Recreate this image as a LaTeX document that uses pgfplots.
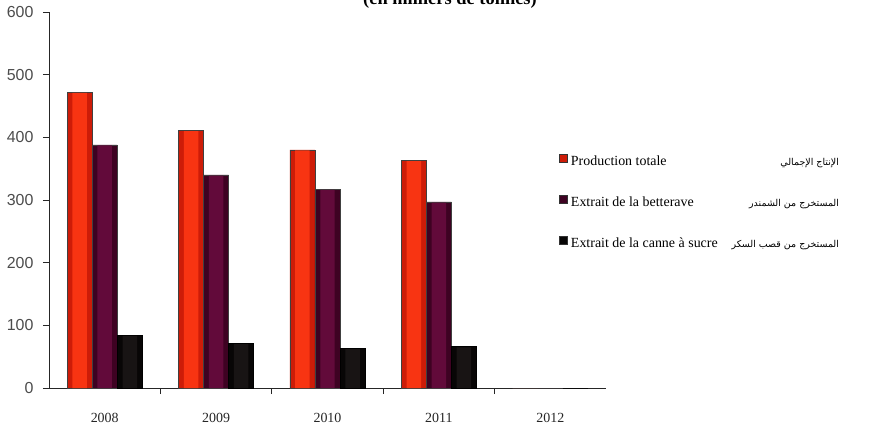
\documentclass[border=0pt]{standalone}
\usepackage{fontspec}
\setmainfont{Liberation Serif}
\newfontfamily\sansf{Liberation Sans}
\newfontfamily\arabicfont[Script=Arabic]{DejaVu Sans}
\TeXXeTstate=1
\usepackage{pgfplots}
\pgfplotsset{compat=1.18}
\definecolor{redD}{RGB}{205,28,8}
\definecolor{redL}{RGB}{248,52,18}
\definecolor{purD}{RGB}{62,2,34}
\definecolor{purL}{RGB}{98,10,58}
\definecolor{blkD}{RGB}{8,6,6}
\definecolor{blkL}{RGB}{24,20,20}
\begin{document}
\begin{tikzpicture}
\begin{axis}[
  at={(0bp,0bp)}, anchor=south west,
  width=557bp, height=376bp, scale only axis,
  xmin=-0.5, xmax=4.5, ymin=0, ymax=600,
  axis lines*=left,
  axis line style={black!85, line width=0.9bp},
  ybar,
  bar width=0.225,
  ytick={0,100,...,600},
  tick align=outside,
  major tick length=6bp,
  tick style={black!85, line width=0.8bp},
  xtick={0.5,1.5,2.5,3.5}, xticklabels={},
  extra x ticks={0,1,2,3,4},
  extra x tick labels={2008,2009,2010,2011,2012},
  extra x tick style={major tick length=0pt, tick label style={font=\fontsize{14}{14}\selectfont, text=black!85, yshift=-22bp}},
  /pgf/number format/assume math mode=true,
  yticklabel style={font=\sansf\fontsize{16}{16}\selectfont, text=black!70, xshift=-6bp},
  legend style={draw=none, fill=none, at={(axis description cs:0.9156,0.6237)}, anchor=north west,
    inner sep=0pt, row sep=27bp, font=\fontsize{14}{14}\selectfont,
    nodes={inner sep=0pt, text height=10bp, text depth=3bp},
    /tikz/every odd column/.append style={column sep=3bp}},
  legend cell align=left,
  legend image code/.code={\draw[#1, draw=black!80, line width=0.8bp] (0bp,-0.5bp) rectangle (8bp,7.5bp);},
]
\addplot[bar shift=-0.225, draw=black!75, line width=0.5bp, fill=redD]
  coordinates {(0,472) (1,411) (2,380) (3,363) (4,0)};
\addplot[bar shift=0, draw=black!75, line width=0.5bp, fill=purD]
  coordinates {(0,388) (1,340) (2,317) (3,297) (4,0)};
\addplot[bar shift=0.225, draw=black, line width=0.5bp, fill=blkD]
  coordinates {(0,84) (1,71) (2,63) (3,66) (4,0)};
\addlegendentry{\makebox[162bp][l]{Production totale}\makebox[106bp][r]{\arabicfont\fontsize{9.5}{9.5}\selectfont\beginR الإنتاج الإجمالي\endR}}
\addlegendentry{\makebox[162bp][l]{Extrait de la betterave}\makebox[106bp][r]{\arabicfont\fontsize{9.5}{9.5}\selectfont\beginR المستخرج من الشمندر\endR}}
\addlegendentry{\makebox[162bp][l]{Extrait de la canne à sucre}\makebox[106bp][r]{\arabicfont\fontsize{9.5}{9.5}\selectfont\beginR المستخرج من قصب السكر\endR}}
\addplot[forget plot, bar shift=-0.225, bar width=0.13, draw=none, fill=redL]
  coordinates {(0,471) (1,410) (2,379) (3,362)};
\addplot[forget plot, bar shift=0, bar width=0.13, draw=none, fill=purL]
  coordinates {(0,387) (1,339) (2,316) (3,296)};
\addplot[forget plot, bar shift=0.225, bar width=0.13, draw=none, fill=blkL]
  coordinates {(0,83) (1,70) (2,62) (3,65)};
\end{axis}
\node[anchor=base, font=\bfseries\fontsize{18.5}{18.5}\selectfont] at (401bp,383bp) {(en milliers de tonnes)};
\pgfresetboundingbox
\useasboundingbox (-49bp,-40bp) rectangle (842bp,388bp);
\end{tikzpicture}
\end{document}
